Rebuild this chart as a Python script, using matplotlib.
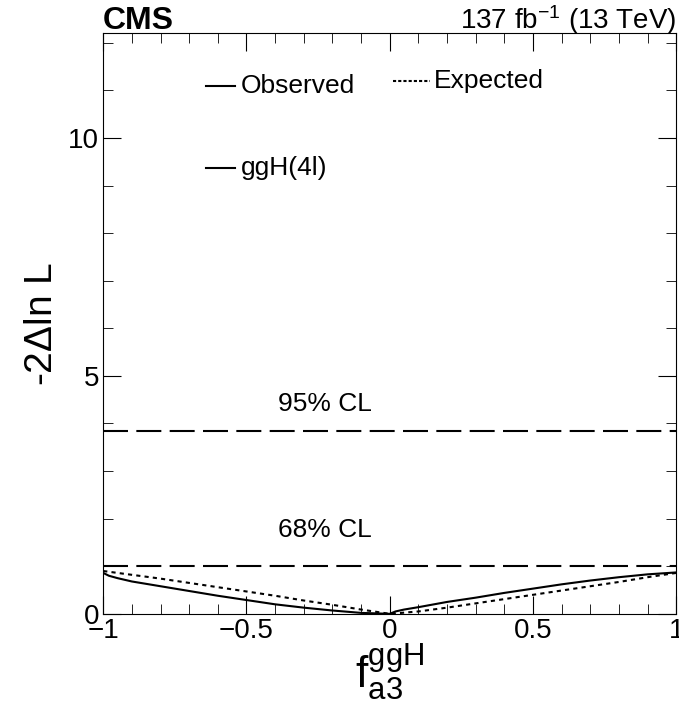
import matplotlib
matplotlib.use("Agg")
import matplotlib.pyplot as plt
from matplotlib.ticker import MultipleLocator
from matplotlib.lines import Line2D

plt.rcParams['font.family'] = ['Liberation Sans', 'DejaVu Sans']
plt.rcParams['mathtext.fontset'] = 'custom'
plt.rcParams['mathtext.rm'] = 'Liberation Sans'
plt.rcParams['mathtext.it'] = 'Liberation Sans'

# observed scan
x_obs = [-1, -0.98, -0.95, -0.9, -0.8, -0.7, -0.6, -0.5, -0.4, -0.3, -0.2, -0.1, -0.05, 0,
         0.02, 0.05, 0.1, 0.2, 0.3, 0.4, 0.5, 0.6, 0.7, 0.8, 0.9, 0.95, 1]
y_obs = [0.86, 0.80, 0.75, 0.68, 0.58, 0.48, 0.38, 0.29, 0.20, 0.13, 0.07, 0.02, 0.01, 0.0,
         0.05, 0.09, 0.14, 0.25, 0.34, 0.44, 0.53, 0.62, 0.70, 0.77, 0.83, 0.85, 0.87]
# expected scan
x_exp = [-1, -0.9, -0.8, -0.7, -0.6, -0.5, -0.4, -0.3, -0.2, -0.1, 0,
         0.1, 0.2, 0.3, 0.4, 0.5, 0.6, 0.7, 0.8, 0.9, 1]
y_exp = [0.90, 0.82, 0.74, 0.65, 0.56, 0.47, 0.38, 0.28, 0.19, 0.09, 0.0,
         0.05, 0.13, 0.22, 0.31, 0.40, 0.49, 0.58, 0.67, 0.77, 0.86]
cl_levels = [1.0, 3.84]
cl_labels = ["68% CL", "95% CL"]

fig = plt.figure(figsize=(6.79, 7.08), dpi=100)
ax = fig.add_axes([0.152, 0.133, 0.844, 0.82])

ax.plot(x_obs, y_obs, color='black', lw=1.5)
ax.plot(x_exp, y_exp, color='black', lw=1.5, linestyle=(0, (2, 2)))
for lev, lab, ty in zip(cl_levels, cl_labels, [1.76, 4.41]):
    ax.axhline(lev, color='black', lw=1.5, linestyle=(0, (12, 4)))
    ax.text(-0.39, ty, lab, fontsize=19, ha='left', va='center')

ax.set_xlim(-1, 1)
ax.set_ylim(0, 12.2)
ax.xaxis.set_major_locator(MultipleLocator(0.5))
ax.xaxis.set_minor_locator(MultipleLocator(0.1))
ax.yaxis.set_major_locator(MultipleLocator(5))
ax.yaxis.set_minor_locator(MultipleLocator(1))
ax.tick_params(which='both', direction='in', top=True, right=True, labelsize=20, pad=3)
ax.tick_params(which='major', length=13)
ax.tick_params(which='minor', length=7)
ax.set_xticks([-1, -0.5, 0, 0.5, 1])
ax.set_xticklabels(['\u22121', '\u22120.5', '0', '0.5', '1'])

# legend entries drawn by hand
ax.add_line(Line2D([-0.64, -0.54], [11.1, 11.1], color='black', lw=1.5))
ax.text(-0.52, 11.1, "Observed", fontsize=19, va='center')
ax.add_line(Line2D([0.01, 0.14], [11.2, 11.2], color='black', lw=1.5, linestyle=(0, (1.5, 1))))
ax.text(0.155, 11.2, "Expected", fontsize=19, va='center')
ax.add_line(Line2D([-0.64, -0.54], [9.37, 9.37], color='black', lw=1.5))
ax.text(-0.52, 9.37, "ggH(4l)", fontsize=19, va='center')

fig.text(0.152, 0.9585, "CMS", fontsize=23, fontweight='bold', ha='left', va='baseline')
fig.text(0.996, 0.9585, r"137 fb$^{\mathrm{-1}}$ (13 TeV)", fontsize=20, ha='right', va='baseline')

ax.set_ylabel(r"-2$\Delta$ln L", fontsize=28)
ax.yaxis.set_label_coords(-0.075, 0.5)
ax.set_xlabel(r"f$_{\mathrm{a3}}^{\mathrm{ggH}}$", fontsize=32, labelpad=-1)

fig.savefig("out.png", dpi=100)
